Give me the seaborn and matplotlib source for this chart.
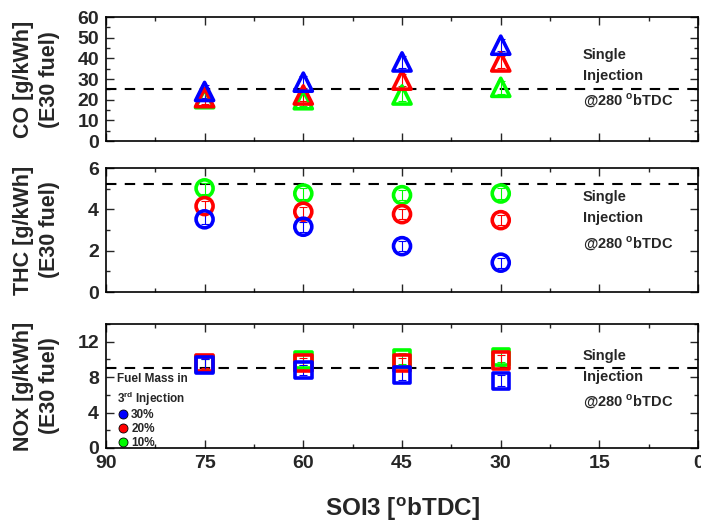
import numpy as np
import pandas as pd
import matplotlib
matplotlib.use('Agg')
import matplotlib.pyplot as plt
from matplotlib.lines import Line2D
from matplotlib.ticker import MultipleLocator
import seaborn as sns

# --- data -------------------------------------------------------------------
soi3 = [75, 60, 45, 30]
fuel_mass = ['30%', '20%', '10%']
colors = {'30%': '#0000FF', '20%': '#FF0000', '10%': '#00FF00'}

co_30 = [24.0, 28.5, 38.3, 46.4]
co_20 = [21.0, 22.3, 29.5, 38.3]
co_10 = [20.5, 20.0, 22.3, 26.0]
co_err = [3.0, 3.0, 3.0, 3.0]
co_single = 25.0

thc_30 = [3.52, 3.16, 2.22, 1.42]
thc_20 = [4.16, 3.89, 3.77, 3.48]
thc_10 = [5.02, 4.77, 4.69, 4.77]
thc_err = [0.25, 0.25, 0.25, 0.25]
thc_single = 5.25

nox_30 = [9.4, 8.8, 8.25, 7.6]
nox_20 = [9.6, 9.6, 9.6, 9.9]
nox_10 = [9.5, 9.96, 10.1, 10.3]
nox_err = [0.6, 0.6, 0.6, 0.6]
nox_single = 9.0

panels = [
    ('CO [g/kWh]\n(E30 fuel)', {'30%': co_30, '20%': co_20, '10%': co_10}, co_err,
     co_single, (0, 60), 10, 5, '^', 170, 0.7314, 0.50),
    ('THC [g/kWh]\n(E30 fuel)', {'30%': thc_30, '20%': thc_20, '10%': thc_10}, thc_err,
     thc_single, (0, 6), 2, 1, 'o', 150, 0.4438, 0.57),
    ('NOx [g/kWh]\n(E30 fuel)', {'30%': nox_30, '20%': nox_20, '10%': nox_10}, nox_err,
     nox_single, (0, 14), 4, 2, 's', 140, 0.1467, 0.55),
]

sns.set_style('ticks')
plt.rcParams['font.family'] = ['Liberation Sans', 'DejaVu Sans']
plt.rcParams['font.weight'] = 'bold'
plt.rcParams['mathtext.fontset'] = 'custom'
plt.rcParams['mathtext.rm'] = 'Liberation Sans:bold'

fig = plt.figure(figsize=(7.01, 5.25), dpi=100)

for i, (ylabel, series, err, single, ylim, major, minor, mk, ms, y0, ty) in enumerate(panels):
    ax = fig.add_axes([0.151, y0, 0.845, 0.236])
    df = pd.DataFrame([
        {'SOI3': x, 'val': v, 'mass': m}
        for m in fuel_mass for x, v in zip(soi3, series[m])
    ])
    for m in ['10%', '20%', '30%']:
        sub = df[df['mass'] == m]
        ax.errorbar(sub['SOI3'], sub['val'], yerr=err, fmt='none',
                    ecolor=colors[m], elinewidth=0.8, capsize=3, capthick=0.8, zorder=2)
        sns.scatterplot(data=sub, x='SOI3', y='val', ax=ax, marker=mk, s=ms,
                        facecolor='none', edgecolor=colors[m], linewidth=2.6,
                        legend=False, zorder=3)
    ax.axhline(single, color='black', lw=1.5, ls=(0, (5, 4)), zorder=1)

    ax.set_xlim(90, 0)
    ax.set_ylim(*ylim)
    ax.xaxis.set_major_locator(MultipleLocator(15))
    ax.xaxis.set_minor_locator(MultipleLocator(7.5))
    ax.yaxis.set_major_locator(MultipleLocator(major))
    ax.yaxis.set_minor_locator(MultipleLocator(minor))
    ax.tick_params(which='both', direction='in', top=True, right=True,
                   labelsize=14, width=1)
    ax.tick_params(which='major', length=6, pad=5)
    ax.tick_params(which='minor', length=3)
    for lab in ax.get_yticklabels() + ax.get_xticklabels():
        lab.set_fontweight('bold')
    for sp in ax.spines.values():
        sp.set_linewidth(1.2)
        sp.set_color('black')
    ax.set_ylabel(ylabel, fontsize=15.5, fontweight='bold', linespacing=1.3)
    ax.yaxis.set_label_coords(-0.077, 0.5)
    if i < 2:
        ax.set_xticklabels([])
        ax.set_xlabel('')
    else:
        ax.set_xlabel('SOI3 [$^{\\rm o}$bTDC]', fontsize=17.5, fontweight='bold', labelpad=17)

    ax.text(0.805, ty, 'Single\nInjection\n@280 $^{\\rm o}$bTDC', transform=ax.transAxes,
            fontsize=10.5, fontweight='bold', va='center', ha='left', linespacing=1.65)

    if i == 2:
        handles = [Line2D([], [], marker='o', ls='none', markersize=6.5,
                          markerfacecolor=colors[m], markeredgecolor='black',
                          markeredgewidth=0.6) for m in fuel_mass]
        leg = ax.legend(handles, fuel_mass, title='Fuel Mass in\n3$^{\\rm rd}$ Injection',
                        loc='lower left', bbox_to_anchor=(0.005, -0.075), frameon=False,
                        fontsize=8.5, title_fontsize=8.5, handletextpad=0.2,
                        labelspacing=0.15, borderaxespad=0.3, handlelength=1.0,
                        alignment='left')
        for t in leg.get_texts():
            t.set_fontweight('bold')
        leg.get_title().set_fontweight('bold')
        leg.get_title().set_linespacing(1.35)

fig.savefig('out.png', dpi=100)
